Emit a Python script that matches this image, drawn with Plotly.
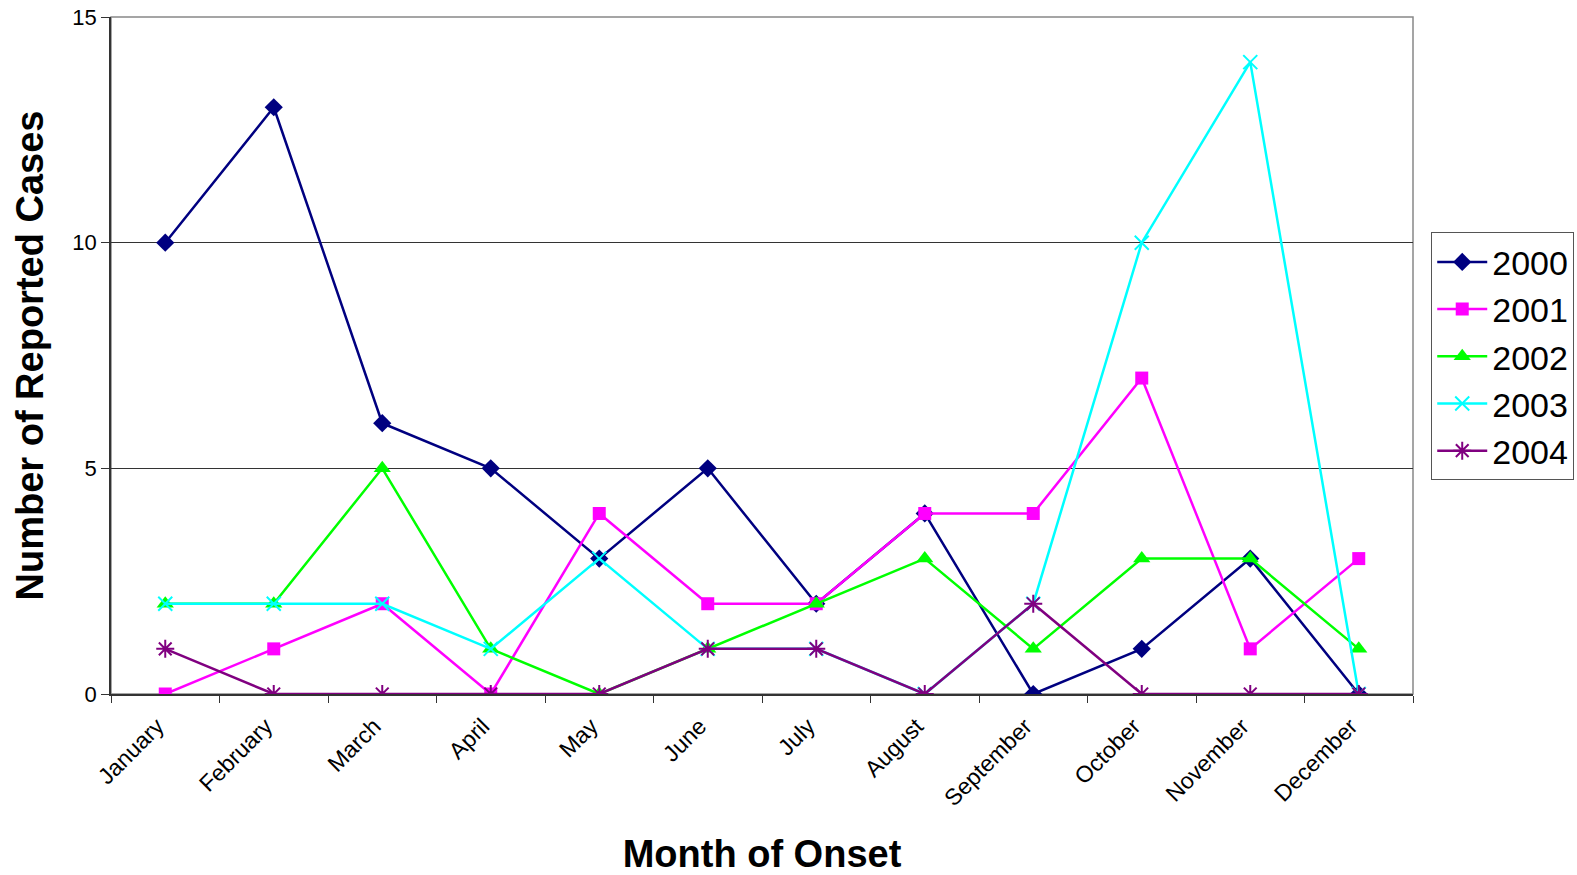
import plotly.graph_objects as go

months = ["January", "February", "March", "April", "May", "June", "July",
          "August", "September", "October", "November", "December"]
y2000 = [10, 13, 6, 5, 3, 5, 2, 4, 0, 1, 3, 0]
y2001 = [0, 1, 2, 0, 4, 2, 2, 4, 4, 7, 1, 3]
y2002 = [2, 2, 5, 1, 0, 1, 2, 3, 1, 3, 3, 1]
y2003 = [2, 2, 2, 1, 3, 1, 1, 0, 2, 10, 14, 0]
y2004 = [1, 0, 0, 0, 0, 1, 1, 0, 2, 0, 0, 0]

series = [
    ("2000", y2000, "#000080", "diamond", 14),
    ("2001", y2001, "#FF00FF", "square", 13),
    ("2002", y2002, "#00FF00", "triangle-up", 15),
    ("2003", y2003, "#00FFFF", "x-thin", 14),
    ("2004", y2004, "#800080", "asterisk", 15),
]

fig = go.Figure()
for name, vals, color, sym, size in series:
    line_sym = sym in ("x-thin", "asterisk")
    fig.add_trace(go.Scatter(
        x=months, y=vals, name=name, mode="lines+markers",
        line=dict(color=color, width=2.5),
        marker=dict(symbol=sym, size=size, color=color,
                    line=dict(color=color, width=2 if line_sym else 0)),
    ))

fig.update_layout(
    width=1577, height=875,
    margin=dict(l=111, r=164, t=17, b=181, autoexpand=False),
    paper_bgcolor="white", plot_bgcolor="white",
    font=dict(family="Liberation Sans, Arial, sans-serif", color="black"),
    showlegend=True,
    legend=dict(x=1.014, y=0.682, xanchor="left", yanchor="top",
                bordercolor="#555555", borderwidth=1,
                font=dict(size=34), tracegroupgap=0, itemwidth=50),
)
fig.update_xaxes(
    type="category", range=[-0.5, 11.5], tickson="boundaries",
    ticks="outside", ticklen=7, tickcolor="#333333",
    tickangle=-45, tickfont=dict(size=23),
    ticklabelstandoff=8, ticklabelshift=-8,
    showline=True, linecolor="#333333", linewidth=1.5, mirror=False,
    showgrid=False, automargin=False,
    title=dict(text="<b>Month of Onset</b>", font=dict(size=38), standoff=44),
)
fig.update_yaxes(
    range=[0, 15], tickvals=[0, 5, 10, 15],
    ticks="outside", ticklen=8, tickcolor="#333333",
    tickfont=dict(size=22), ticklabeloverflow="allow",
    showline=True, linecolor="#333333", linewidth=1.5,
    showgrid=True, gridcolor="#333333", gridwidth=1,
    zeroline=False, automargin=False,
    title=dict(text="<b>Number of Reported Cases</b>", font=dict(size=38), standoff=17),
)
# gray plot border on top and right
fig.add_shape(type="rect", xref="paper", yref="paper", x0=0, y0=0, x1=1, y1=1,
              line=dict(color="#888888", width=1.5), layer="below")

fig.write_html("out.html", config={"displayModeBar": False},
               post_script="document.body.style.margin='0';")
